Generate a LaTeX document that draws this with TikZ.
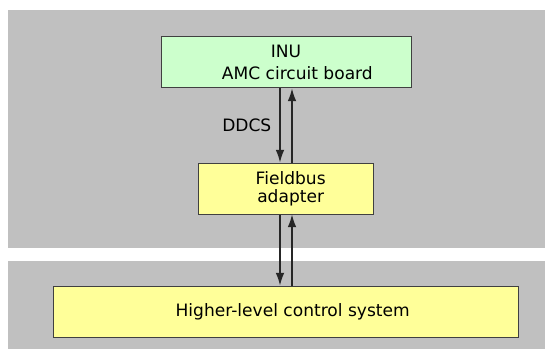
\documentclass[tikz,border=0pt]{standalone}
\usepackage{fontspec}
\setmainfont{DejaVu Sans}
\usetikzlibrary{arrows.meta}
\definecolor{panelgray}{HTML}{C0C0C0}
\definecolor{boardgreen}{HTML}{CCFFCC}
\definecolor{adapteryellow}{HTML}{FFFF99}
\definecolor{edgegray}{HTML}{404040}

\begin{document}
\begin{tikzpicture}[>={Latex[length=9.5pt,width=6.5pt]}, x=0.75pt, y=-0.75pt,
  unit/.style={draw=edgegray, line width=0.75pt, inner sep=0pt, minimum height=38.25pt,
    align=center, font=\fontsize{12.8}{16.3}\selectfont},
  link/.style={line width=1pt, draw=black!85}]
  \useasboundingbox (0,0) rectangle (545,349);
  % background panels
  \fill[panelgray] (8,10) rectangle (545,248);
  \fill[panelgray] (8,261) rectangle (545,349);
  % units
  \node[unit, fill=boardgreen, minimum width=187.5pt] (amc) at (286,62.5)
    {INU\\\hspace*{17pt}AMC circuit board};
  \node[unit, fill=adapteryellow, minimum width=131.25pt, font=\fontsize{12.8}{13.7}\selectfont]
    (fba) at (286,188.5) {\hspace*{7pt}Fieldbus\\\hspace*{7pt}adapter};
  \node[unit, fill=adapteryellow, minimum width=348.75pt] (ctrl) at (286,311.5)
    {\hspace*{10pt}Higher-level control system};
  % links
  \draw[link,->] ([xshift=-4.5pt]amc.south) -- ([xshift=-4.5pt]fba.north)
    node[midway, left=6pt, inner sep=0pt, font=\fontsize{12.8}{14}\selectfont] (ddcs) {DDCS};
  \draw[link,->] ([xshift=4.5pt]fba.north) -- ([xshift=4.5pt]amc.south);
  \draw[link,->] ([xshift=-4.5pt]fba.south) -- ([xshift=-4.5pt]ctrl.north);
  \draw[link,->] ([xshift=4.5pt]ctrl.north) -- ([xshift=4.5pt]fba.south);
\end{tikzpicture}
\end{document}
